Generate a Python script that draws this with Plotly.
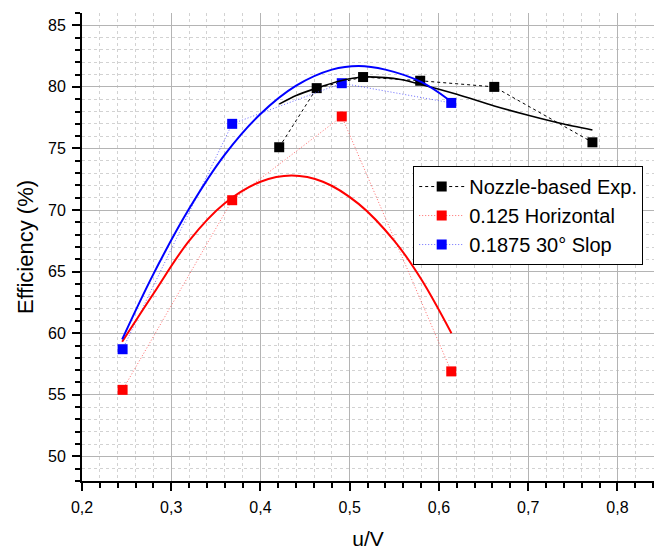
import plotly.graph_objects as go

# ---- data ----
nozzle_x = [0.421, 0.463, 0.515, 0.579, 0.662, 0.772]
nozzle_y = [75.1, 79.9, 80.8, 80.5, 80.0, 75.5]

slot_x = [0.2455, 0.3683, 0.4911, 0.6138]
horizontal_y = [55.4, 70.8, 77.6, 56.9]
slope_y = [58.7, 77.0, 80.3, 78.7]

# fitted curves
nozzle_fit_x = [0.421, 0.44, 0.463, 0.49, 0.515, 0.54, 0.557, 0.58, 0.62, 0.662, 0.70, 0.736, 0.772]
nozzle_fit_y = [78.6, 79.3, 79.9, 80.5, 80.8, 80.75, 80.6, 80.2, 79.4, 78.45, 77.7, 77.05, 76.5]

horizontal_fit_x = [0.245, 0.28, 0.32, 0.36, 0.40, 0.435, 0.47, 0.51, 0.55, 0.58, 0.614]
horizontal_fit_y = [59.3, 63.2, 67.5, 70.55, 72.3, 72.8, 72.3, 70.5, 67.5, 64.4, 60.0]

slope_fit_x = [0.245, 0.28, 0.32, 0.36, 0.40, 0.44, 0.48, 0.51, 0.54, 0.58, 0.612]
slope_fit_y = [59.5, 64.8, 70.1, 74.5, 77.8, 80.1, 81.4, 81.7, 81.4, 80.4, 78.9]

x_tick_vals = [0.2, 0.3, 0.4, 0.5, 0.6, 0.7, 0.8]
x_tick_text = ["0,2", "0,3", "0,4", "0,5", "0,6", "0,7", "0,8"]
y_tick_vals = [50, 55, 60, 65, 70, 75, 80, 85]
y_tick_text = ["50", "55", "60", "65", "70", "75", "80", "85"]

FONT = "Liberation Sans, Arial, sans-serif"

fig = go.Figure()

fig.add_trace(go.Scatter(
    x=nozzle_x, y=nozzle_y, mode="lines+markers", name="Nozzle-based Exp.",
    line=dict(color="black", width=1, dash="3px,3px"),
    marker=dict(symbol="square", size=10, color="black"),
))
fig.add_trace(go.Scatter(
    x=slot_x, y=horizontal_y, mode="lines+markers", name="0.125 Horizontal",
    line=dict(color="rgba(255,70,70,0.8)", width=1, dash="1px,2px"),
    marker=dict(symbol="square", size=10, color="red"),
))
fig.add_trace(go.Scatter(
    x=slot_x, y=slope_y, mode="lines+markers", name="0.1875 30° Slop",
    line=dict(color="rgba(70,70,255,0.8)", width=1, dash="1px,2px"),
    marker=dict(symbol="square", size=10, color="blue"),
))

fig.add_trace(go.Scatter(
    x=nozzle_fit_x, y=nozzle_fit_y, mode="lines", showlegend=False,
    line=dict(color="black", width=1.6, shape="spline", smoothing=0.8), hoverinfo="skip",
))
fig.add_trace(go.Scatter(
    x=horizontal_fit_x, y=horizontal_fit_y, mode="lines", showlegend=False,
    line=dict(color="red", width=2, shape="spline"), hoverinfo="skip",
))
fig.add_trace(go.Scatter(
    x=slope_fit_x, y=slope_fit_y, mode="lines", showlegend=False,
    line=dict(color="blue", width=2, shape="spline"), hoverinfo="skip",
))

axis_common = dict(
    showline=True, linecolor="black", linewidth=2,
    ticks="outside", ticklen=8, tickwidth=2, tickcolor="black",
    showgrid=True, gridcolor="#b4b4b4", gridwidth=1,
    zeroline=False, mirror=False,
    tickfont=dict(family=FONT, size=16, color="black"),
    ticklabelstandoff=3,
)

fig.update_xaxes(
    range=[0.2, 0.841], tickmode="array", tickvals=x_tick_vals, ticktext=x_tick_text,
    minor=dict(tickmode="linear", tick0=0.2, dtick=0.02, ticks="outside", ticklen=5,
               tickwidth=2, tickcolor="black", showgrid=True, gridcolor="#d2d2d2",
               griddash="dot", gridwidth=1),
    title=dict(text="u/V", font=dict(family=FONT, size=21, color="black"), standoff=20),
    **axis_common,
)
fig.update_yaxes(
    range=[48, 86], tickmode="array", tickvals=y_tick_vals, ticktext=y_tick_text,
    minor=dict(tickmode="linear", tick0=48, dtick=1, ticks="outside", ticklen=5,
               tickwidth=2, tickcolor="black", showgrid=True, gridcolor="#d2d2d2",
               griddash="dot", gridwidth=1),
    title=dict(text="Efficiency (%)", font=dict(family=FONT, size=22, color="black"), standoff=8),
    **axis_common,
)

fig.update_layout(
    width=654, height=550,
    margin=dict(l=82, r=0, t=13, b=69),
    paper_bgcolor="white", plot_bgcolor="white",
    font=dict(family=FONT, color="black"),
    showlegend=True,
    legend=dict(
        x=0.579, y=0.673, xanchor="left", yanchor="top",
        bgcolor="white", bordercolor="black", borderwidth=1,
        font=dict(family=FONT, size=20, color="black"),
        tracegroupgap=0, itemwidth=45,
    ),
)

fig.write_html("out.html")
